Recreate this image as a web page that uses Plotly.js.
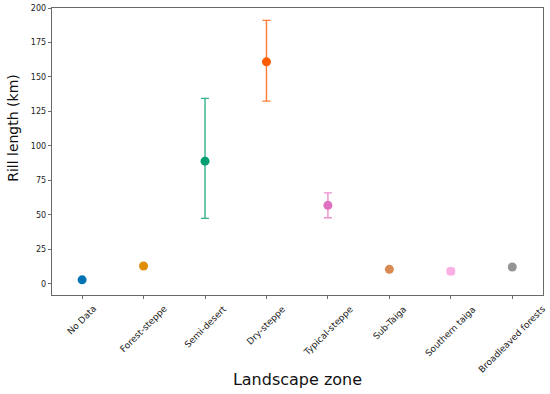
<!DOCTYPE html>
<html>
<head>
<meta charset="utf-8">
<script src="https://cdn.plot.ly/plotly-3.0.1.min.js"></script>
<style>html,body{margin:0;padding:0;background:#fff;}#chart{width:550px;height:394px;}</style>
</head>
<body>
<div id="chart"></div>
<script>
const zones = ["No Data","Forest-steppe","Semi-desert","Dry-steppe","Typical-steppe","Sub-Taiga","Southern taiga","Broadleaved forests"];
const rillLength = [3, 13, 89, 161, 57, 10.6, 9.2, 12.3];
const errPlus = [0, 0, 45.5, 30, 9, 0, 2, 0];
const errMinus = [0, 0, 41.5, 28.5, 9, 0, 2, 0];
const markerColors = ["#0173b2","#de8f05","#029e73","#ff5b00","#e070c0","#d98a52","#fbafe4","#949494"];
const errColors = ["#0173b2","#de8f05","#34b08c","#ff7a33","#eb8fcf","#d98a52","#fbafe4","#949494"];

const traces = zones.map((z, i) => ({
  type: "scatter",
  mode: "markers",
  x: [z],
  y: [rillLength[i]],
  marker: {color: markerColors[i], size: 9},
  error_y: {
    type: "data", symmetric: false,
    array: [errPlus[i]], arrayminus: [errMinus[i]],
    visible: errPlus[i] > 0 || errMinus[i] > 0,
    color: errColors[i], thickness: 1.4, width: 4
  },
  showlegend: false,
  hoverinfo: "x+y"
}));

// centred, rotated category labels (matplotlib style) placed on the category scale
const annots = zones.map(z => ({
  x: z, xref: "x", y: 0, yref: "paper",
  text: z, textangle: -45,
  xanchor: "center", yanchor: "top", yshift: -6,
  showarrow: false,
  font: {size: 9, color: "#222", family: "DejaVu Sans, sans-serif"}
}));
// y-axis title, positioned as in the reference
annots.push({
  x: -0.0785, xref: "paper", y: 0.584, yref: "paper",
  text: "Rill length (km)", textangle: -90,
  xanchor: "center", yanchor: "middle", showarrow: false,
  font: {size: 14, color: "#111", family: "DejaVu Sans, sans-serif"}
});

const layout = {
  width: 550, height: 394,
  margin: {l: 52, r: 7, t: 8, b: 99},
  paper_bgcolor: "#fff", plot_bgcolor: "#fff",
  font: {family: "DejaVu Sans, sans-serif", color: "#222"},
  annotations: annots,
  xaxis: {
    type: "category",
    categoryorder: "array", categoryarray: zones,
    range: [-0.49, 7.5],
    showticklabels: false,
    ticks: "outside", ticklen: 3.5, tickcolor: "#444", tickwidth: 0.8,
    showline: true, linecolor: "#444", linewidth: 0.8, mirror: true,
    showgrid: false, zeroline: false,
    title: {text: "Landscape zone", font: {size: 16, color: "#111"}, standoff: 75}
  },
  yaxis: {
    range: [-8, 200],
    tickvals: [0, 25, 50, 75, 100, 125, 150, 175, 200],
    tickfont: {size: 8, color: "#222"},
    ticks: "outside", ticklen: 3.5, tickcolor: "#444", tickwidth: 0.8,
    showline: true, linecolor: "#444", linewidth: 0.8, mirror: true,
    showgrid: false, zeroline: false
  }
};

Plotly.newPlot("chart", traces, layout, {displayModeBar: false, staticPlot: true});
</script>
</body>
</html>
